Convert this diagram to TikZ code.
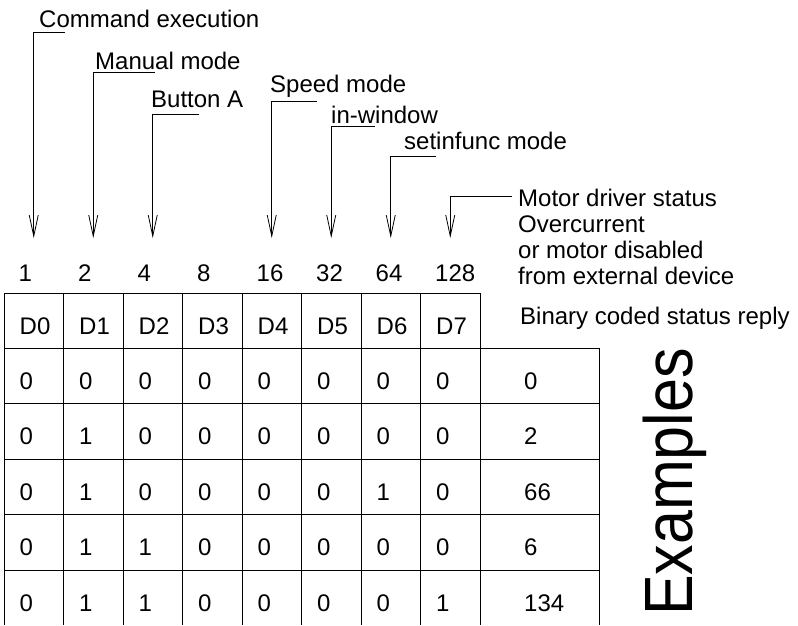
\documentclass[tikz,border=0pt]{standalone}
\usepackage{fontspec}
\setmainfont{Liberation Sans}
\usetikzlibrary{arrows.meta}
\tikzset{
  txt/.style={font=\fontsize{24}{26}\selectfont, inner sep=0pt, anchor=base west},
  grid/.style={line width=1pt},
  lead/.style={->, line width=0.8pt},
}
\begin{document}
\begin{tikzpicture}[>={Straight Barb[length=21pt,width=9pt]}, x=1pt, y=-1pt]
\useasboundingbox (0,0) rectangle (798,625);

% leaders and arrows to the bit weights
\foreach \i/\ly/\lx/\tx/\ty/\txt in {0/32/65/39/27/Command execution, 1/72/155/95/69/Manual mode,
    2/114/199/151/107/Button A, 4/101/317/270/92/Speed mode, 5/126/375/331/123/in-window,
    6/156/436/404/149/setinfunc mode}{
  \node[txt] (lab\i) at (\tx,\ty) {\txt};
  \coordinate (e\i) at (\lx,\ly);
  \coordinate (k\i) at ({33.75+59.5*\i},\ly);
  \coordinate (t\i) at ({33.75+59.5*\i},238);
  \draw[lead] (e\i) -- (k\i) -- (t\i);
}
\node[txt, anchor=north west, align=left] (lab7) at (518,188.5)
  {Motor driver status\\Overcurrent\\or motor disabled\\from external device};
\coordinate (e7) at (512,196);
\coordinate (k7) at (450.25,196);
\coordinate (t7) at (450.25,238);
\draw[lead] (e7) -- (k7) -- (t7);

% weights
\foreach \v [count=\i from 0] in {1,2,4,8,16,32,64,128}
  \node[txt] (w\i) at ({18.5+59.5*\i},281) {\v};

\node[txt] (reply) at (520,324) {Binary coded status reply};

% table
\draw[grid] (4,293) -- (480,293);
\foreach \i in {0,...,8} \draw[grid] ({4+59.5*\i},293) -- ({4+59.5*\i},625);
\draw[grid] (599,348.4) -- (599,625);
\foreach \j in {1,...,5} \draw[grid] (4,{293+55.4*\j}) -- (599,{293+55.4*\j});

\foreach \i in {0,...,7}
  \node[txt] (h\i) at ({19.5+59.5*\i},334) {D\i};
\foreach \row [count=\r] in {{0,0,0,0,0,0,0,0},{0,1,0,0,0,0,0,0},{0,1,0,0,0,0,1,0},
    {0,1,1,0,0,0,0,0},{0,1,1,0,0,0,0,1}}
  \foreach \v [count=\c from 0] in \row
    \node[txt] (c\r-\c) at ({19.5+59.5*\c},{334+55.4*\r}) {\v};
\foreach \s [count=\r] in {0,2,66,6,134}
  \node[txt] (s\r) at (524,{334+55.4*\r}) {\s};

\node[rotate=90, anchor=base, inner sep=0pt, font=\fontsize{61}{61}\selectfont] (ex) at (692,482)
  {\scalebox{1}[1.12]{Examples}};

\end{tikzpicture}
\end{document}
